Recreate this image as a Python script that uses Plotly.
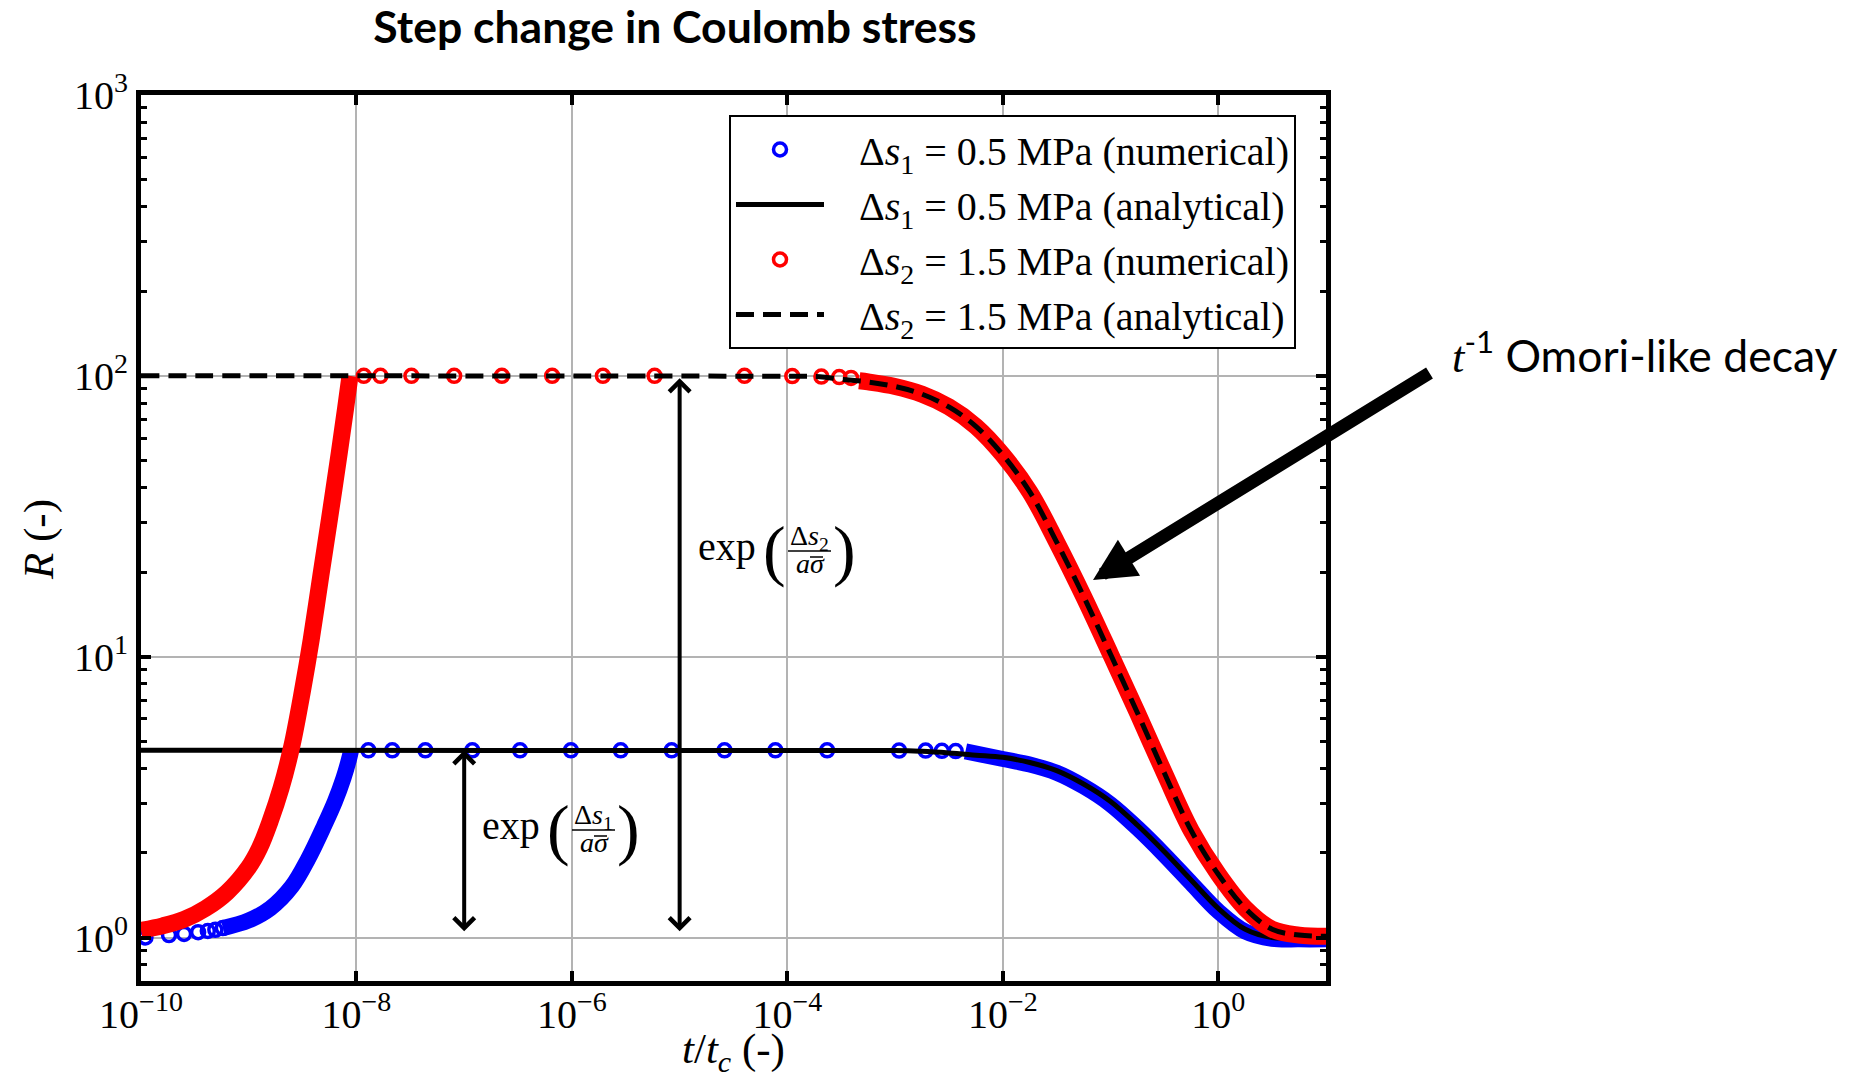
import math
import plotly.graph_objects as go

# ------------------------------------------------------------------
# Data
# ------------------------------------------------------------------
# Δs1 = 0.5 MPa, numerical: circles that stand apart
blue_sparse_t = [1.10e-10, 1.82e-10, 2.51e-10, 3.39e-10, 4.17e-10, 4.90e-10, 5.75e-10,
                 1.29e-8, 2.15e-8, 4.36e-8, 1.19e-7, 3.30e-7, 9.79e-7, 2.84e-6, 8.43e-6,
                 2.61e-5, 7.74e-5, 2.34e-4, 1.09e-3, 1.92e-3, 2.72e-3, 3.65e-3]
blue_sparse_R = [1.00, 1.02, 1.03, 1.045, 1.055, 1.065, 1.08,
                 4.64, 4.64, 4.64, 4.64, 4.64, 4.64, 4.64, 4.64,
                 4.64, 4.64, 4.64, 4.63, 4.63, 4.62, 4.61]
# Δs1 numerical: dense parts where the circles merge into a band
blue_ramp_t = [5.754e-10, 1.0e-9, 1.585e-9, 2.512e-9, 3.548e-9, 5.012e-9, 6.310e-9,
               7.586e-9, 8.511e-9, 8.913e-9]
blue_ramp_R = [1.08, 1.15, 1.27, 1.52, 1.90, 2.50, 3.05, 3.70, 4.30, 4.64]
blue_decay_t = [4.5e-3, 1.0e-2, 1.78e-2, 3.16e-2, 5.62e-2, 0.1, 0.178, 0.316, 0.562,
                1.0, 1.78, 3.16, 5.62, 10.0]
blue_decay_R = [4.60, 4.32, 4.13, 3.86, 3.45, 2.98, 2.45, 1.97, 1.56, 1.24, 1.05,
                0.99, 0.985, 0.985]

# Δs2 = 1.5 MPa, numerical
red_sparse_t = [1.17e-8, 1.67e-8, 3.24e-8, 8.07e-8, 2.24e-7, 6.56e-7, 1.94e-6,
                5.86e-6, 4.0e-5, 1.11e-4, 2.07e-4, 3.03e-4, 3.90e-4]
red_sparse_R = [100, 100, 100, 100, 100, 100, 100, 100, 100, 99.8, 99.4, 99.0, 98.3]
red_ramp_t = [1.0e-10, 1.585e-10, 2.512e-10, 3.981e-10, 6.310e-10, 1.0e-9, 1.259e-9,
              1.585e-9, 1.995e-9, 2.512e-9, 3.162e-9, 3.802e-9, 4.677e-9, 5.623e-9,
              6.918e-9, 7.943e-9, 8.710e-9]
red_ramp_R = [1.06, 1.10, 1.16, 1.27, 1.45, 1.78, 2.08, 2.60, 3.40, 4.80, 7.60,
              11.5, 19.5, 31.0, 53.0, 77.0, 100.0]
red_decay_t = [4.65e-4, 5.62e-4, 1.0e-3, 1.78e-3, 3.16e-3, 5.62e-3, 1.0e-2, 1.78e-2,
               3.16e-2, 5.62e-2, 0.1, 0.178, 0.316, 0.562, 1.0, 1.78, 3.16, 5.62, 10.0]
red_decay_R = [96.0, 95.1, 91.6, 86.0, 77.5, 66.1, 52.3, 38.6, 25.6, 16.4, 10.2,
               6.3, 3.85, 2.40, 1.68, 1.27, 1.07, 1.02, 1.01]

# Analytical solutions
an1_t = [1.0e-10, 1.0e-3, 1.78e-3, 3.16e-3, 5.62e-3, 1.0e-2, 1.78e-2, 3.16e-2,
         5.62e-2, 0.1, 0.178, 0.316, 0.562, 1.0, 1.78, 3.16, 5.62, 10.0]
an1_R = [4.64, 4.63, 4.60, 4.54, 4.46, 4.38, 4.20, 3.93, 3.52, 3.05, 2.51, 2.02,
         1.60, 1.27, 1.07, 1.00, 1.00, 1.00]
an2_t = [1.0e-10, 1.0e-4, 2.0e-4, 3.16e-4, 5.62e-4, 1.0e-3, 1.78e-3, 3.16e-3, 5.62e-3,
         1.0e-2, 1.78e-2, 3.16e-2, 5.62e-2, 0.1, 0.178, 0.316, 0.562, 1.0, 1.78,
         3.16, 5.62, 10.0]
an2_R = [100, 99.6, 99.3, 97.2, 95.1, 91.6, 86.0, 77.5, 66.1, 52.3, 38.6, 25.6,
         16.4, 10.2, 6.3, 3.85, 2.40, 1.68, 1.27, 1.07, 1.02, 1.01]

legend_names = [
    "Δ<i>s</i><sub>1</sub> = 0.5 MPa (numerical)",
    "Δ<i>s</i><sub>1</sub> = 0.5 MPa (analytical)",
    "Δ<i>s</i><sub>2</sub> = 1.5 MPa (numerical)",
    "Δ<i>s</i><sub>2</sub> = 1.5 MPa (analytical)",
]

x_tickvals = [1e-10, 1e-8, 1e-6, 1e-4, 1e-2, 1e0]
x_ticktext = ["10<sup>−10</sup>", "10<sup>−8</sup>", "10<sup>−6</sup>",
              "10<sup>−4</sup>", "10<sup>−2</sup>", "10<sup>0</sup>"]
y_tickvals = [1, 10, 100, 1000]
y_ticktext = ["10<sup>0</sup>", "10<sup>1</sup>", "10<sup>2</sup>", "10<sup>3</sup>"]
y_minor = [0.8, 0.9] + [m * d for d in (1, 10, 100) for m in range(2, 10)]

# double-headed arrows: (time, top R, bottom R)
arrow1 = (1e-7, 4.64, 1.04)
arrow2 = (1e-5, 98.0, 1.04)

# ------------------------------------------------------------------
W, H = 1863, 1077
L, R_, T, B = 141, 537, 95, 96
PW, PH = W - L - R_, H - T - B
SERIF = "Liberation Serif"
NB = "&nbsp;&nbsp;&nbsp;"


def xp(px):
    return (px - L) / PW


def yp(py):
    return (H - B - py) / PH


BLUE, RED = "#0000ff", "#ff0000"
MS = 13

fig = go.Figure()

# Δs1 numerical (band where markers overlap + separate circles)
fig.add_trace(go.Scatter(
    x=blue_ramp_t + [None] + blue_decay_t, y=blue_ramp_R + [None] + blue_decay_R,
    mode="lines", line=dict(color=BLUE, width=16, shape="spline"),
    connectgaps=False, showlegend=False, hoverinfo="skip"))
fig.add_trace(go.Scatter(
    x=blue_sparse_t, y=blue_sparse_R, mode="markers", name=NB + legend_names[0],
    marker=dict(symbol="circle-open", size=MS, color=BLUE, line=dict(width=3.5, color=BLUE)),
    legendrank=1))
# Δs1 analytical
fig.add_trace(go.Scatter(
    x=an1_t, y=an1_R, mode="lines", name=NB + legend_names[1],
    line=dict(color="black", width=5, shape="spline"), legendrank=2))
# Δs2 numerical
fig.add_trace(go.Scatter(
    x=red_ramp_t + [None] + red_decay_t, y=red_ramp_R + [None] + red_decay_R,
    mode="lines", line=dict(color=RED, width=17, shape="spline"),
    connectgaps=False, showlegend=False, hoverinfo="skip"))
fig.add_trace(go.Scatter(
    x=red_sparse_t, y=red_sparse_R, mode="markers", name=NB + legend_names[2],
    marker=dict(symbol="circle-open", size=MS, color=RED, line=dict(width=3.5, color=RED)),
    legendrank=3))
# Δs2 analytical
fig.add_trace(go.Scatter(
    x=an2_t, y=an2_R, mode="lines", name=NB + legend_names[3],
    line=dict(color="black", width=5, dash="18px,9px", shape="spline"), legendrank=4))

axis_common = dict(
    type="log", showline=True, linewidth=5, linecolor="black", mirror="allticks",
    ticks="inside", ticklen=10, tickwidth=3.5, tickcolor="black",
    showgrid=True, gridcolor="#b3b3b3", gridwidth=2, zeroline=False,
    tickfont=dict(family=SERIF, size=40, color="black"),
)

fig.update_xaxes(
    range=[-10, 1], tickmode="array", tickvals=x_tickvals, ticktext=x_ticktext,
    ticklabelstandoff=-6, **axis_common)
fig.update_yaxes(
    range=[math.log10(0.7), 3], tickmode="array", tickvals=y_tickvals,
    ticktext=y_ticktext,
    minor=dict(ticks="inside", ticklen=6, tickwidth=3, tickcolor="black",
               tickmode="array", tickvals=y_minor, showgrid=False),
    **axis_common)

annotations = []

# axis titles
annotations.append(dict(
    x=xp(733), y=yp(1052), xref="paper", yref="paper", showarrow=False,
    xanchor="center", yanchor="middle",
    text="<i>t</i>/<i>t</i><sub><i>c</i></sub> (-)",
    font=dict(family=SERIF, size=43, color="black")))
annotations.append(dict(
    x=xp(39), y=yp(540), xref="paper", yref="paper", showarrow=False,
    xanchor="center", yanchor="middle", textangle=-90,
    text="<i>R</i> (-)", font=dict(family=SERIF, size=43, color="black")))

# double-headed arrows
for (ta, rtop, rbot) in (arrow1, arrow2):
    annotations.append(dict(
        x=math.log10(ta), y=math.log10(rtop), ax=math.log10(ta), ay=math.log10(rbot),
        xref="x", yref="y", axref="x", ayref="y", text="", showarrow=True,
        arrowside="end+start", arrowhead=4, startarrowhead=4,
        arrowsize=1.0, startarrowsize=1.0, arrowwidth=4, arrowcolor="black",
        standoff=0, startstandoff=0))


def exp_label(cx, cy, sub):
    """exp( Δs_sub / a σ̄ ) label; (cx, cy) = pixel centre of 'exp'."""
    out = []
    out.append(dict(x=xp(cx), y=yp(cy - 4), xref="paper", yref="paper", text="exp",
                    showarrow=False, xanchor="center", yanchor="middle",
                    font=dict(family=SERIF, size=40, color="black")))
    for txt, dx in (("(", 47.5), (")", 117.5)):
        out.append(dict(x=xp(cx + dx), y=yp(cy), xref="paper", yref="paper", text=txt,
                        showarrow=False, xanchor="center", yanchor="middle",
                        font=dict(family=SERIF, size=68, color="black")))
    out.append(dict(x=xp(cx + 82), y=yp(cy - 13), xref="paper", yref="paper",
                    text="Δ<i>s</i><sub>%d</sub>" % sub,
                    showarrow=False, xanchor="center", yanchor="middle",
                    font=dict(family=SERIF, size=28, color="black")))
    out.append(dict(x=xp(cx + 83), y=yp(cy + 13), xref="paper", yref="paper",
                    text="<i>aσ</i>",
                    showarrow=False, xanchor="center", yanchor="middle",
                    font=dict(family=SERIF, size=28, color="black")))
    return out


LABELS = ((727, 550, 2), (511, 829, 1))
for cx, cy, sub in LABELS:
    annotations += exp_label(cx, cy, sub)

shapes = []
for cx, cy, sub in LABELS:
    # fraction bar
    shapes.append(dict(type="line", xref="paper", yref="paper",
                       x0=xp(cx + 61), x1=xp(cx + 104), y0=yp(cy + 1), y1=yp(cy + 1),
                       line=dict(color="black", width=1.6)))
    # bar over sigma
    shapes.append(dict(type="line", xref="paper", yref="paper",
                       x0=xp(cx + 83), x1=xp(cx + 96), y0=yp(cy + 7), y1=yp(cy + 7),
                       line=dict(color="black", width=1.5)))

# Omori arrow + text
annotations.append(dict(
    x=xp(1093), y=yp(580), xref="paper", yref="paper", text="", showarrow=True,
    ax=338, ay=-208, arrowhead=2, arrowsize=0.65, arrowwidth=13, arrowcolor="black",
    standoff=0))
annotations.append(dict(
    x=xp(1450), y=yp(352), xref="paper", yref="paper", showarrow=False,
    xanchor="left", yanchor="middle",
    text="<span style='font-family:Liberation Serif'><i>t</i></span><sup>-1</sup> Omori-like decay",
    font=dict(family="Lato", size=44.5, color="black")))

fig.update_layout(
    width=W, height=H,
    margin=dict(l=L, r=R_, t=T, b=B, autoexpand=False),
    paper_bgcolor="white", plot_bgcolor="white",
    font=dict(family=SERIF, size=40, color="black"),
    title=dict(text="<b>Step change in Coulomb stress</b>",
               font=dict(family="Lato", size=44.5, color="black"),
               x=xp(675), xref="paper", xanchor="center",
               y=1 - 27 / H, yref="container", yanchor="middle"),
    legend=dict(x=xp(729), y=yp(115), xanchor="left", yanchor="top",
                bgcolor="white", bordercolor="black", borderwidth=2,
                font=dict(family=SERIF, size=40, color="black"),
                itemwidth=88, tracegroupgap=0),
    annotations=annotations,
    shapes=shapes,
)

fig.write_html("out.html")
